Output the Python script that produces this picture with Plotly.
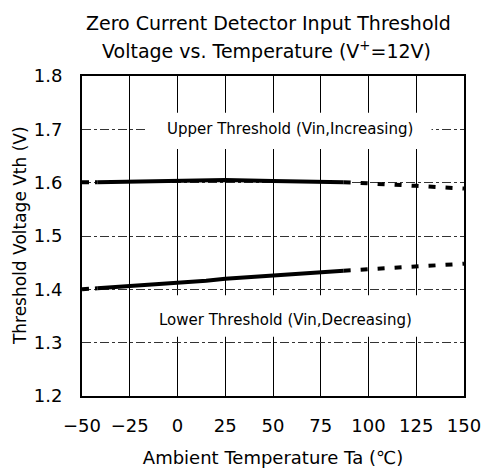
import plotly.graph_objects as go

# ---- data ----
temp_left = [-50, -42]
upper_left = [1.601, 1.601]
lower_left = [1.400, 1.402]

temp_solid = [-42, -25, 0, 15, 25, 50, 75, 87]
upper_solid = [1.601, 1.602, 1.605, 1.606, 1.605, 1.603, 1.601, 1.601]
lower_solid = [1.402, 1.406, 1.413, 1.416, 1.420, 1.426, 1.432, 1.435]

temp_right = [87, 100, 125, 150]
upper_right = [1.601, 1.598, 1.594, 1.589]
lower_right = [1.435, 1.438, 1.443, 1.448]

x_ticks = [-50, -25, 0, 25, 50, 75, 100, 125, 150]
x_tick_text = ["\u221250", "\u221225", "0", "25", "50", "75", "100", "125", "150"]
y_ticks = [1.2, 1.3, 1.4, 1.5, 1.6, 1.7, 1.8]
y_tick_text = ["1.2", "1.3", "1.4", "1.5", "1.6", "1.7", "1.8"]

title_lines = ["Zero Current Detector Input Threshold",
               "Voltage vs. Temperature (V<sup>+</sup>=12V)"]

FONT = "DejaVu Sans"
BLACK = "#000000"

fig = go.Figure()

def add(x, y, dash):
    fig.add_trace(go.Scatter(x=x, y=y, mode="lines",
                             line=dict(color=BLACK, width=4, dash=dash),
                             showlegend=False, hoverinfo="skip"))

add(temp_left, upper_left, "7px,6px")
add(temp_solid, upper_solid, "solid")
add(temp_right, upper_right, "7px,10px")
add(temp_left, lower_left, "7px,6px")
add(temp_solid, lower_solid, "solid")
add(temp_right, lower_right, "7px,10px")

# white label backgrounds covering grid lines
fig.add_shape(type="rect", xref="x", yref="y", x0=-15.5, x1=133, y0=1.663, y1=1.731,
              fillcolor="white", line=dict(width=0), layer="between")
fig.add_shape(type="rect", xref="x", yref="y", x0=-17, x1=132, y0=1.311, y1=1.389,
              fillcolor="white", line=dict(width=0), layer="between")

fig.add_annotation(x=59, y=1.7, xref="x", yref="y", showarrow=False,
                   text="Upper Threshold (Vin,Increasing)",
                   font=dict(family=FONT, size=15, color=BLACK))
fig.add_annotation(x=56.5, y=1.343, xref="x", yref="y", showarrow=False,
                   text="Lower Threshold (Vin,Decreasing)",
                   font=dict(family=FONT, size=15, color=BLACK))

# y-axis title
fig.add_annotation(x=-0.162, y=0.5, xref="paper", yref="paper", showarrow=False,
                   xanchor="center", yanchor="middle",
                   text="Threshold Voltage Vth (V)", textangle=-90,
                   font=dict(family=FONT, size=17, color=BLACK))

# two-line chart title
fig.add_annotation(x=0.487, y=1.1656, xref="paper", yref="paper", showarrow=False,
                   text=title_lines[0], xanchor="center", yanchor="middle",
                   font=dict(family=FONT, size=19, color=BLACK))
fig.add_annotation(x=0.482, y=1.081, xref="paper", yref="paper", showarrow=False,
                   text=title_lines[1], xanchor="center", yanchor="middle",
                   font=dict(family=FONT, size=19, color=BLACK))

fig.update_layout(
    width=490, height=469,
    margin=dict(l=82, r=26, t=76, b=73, autoexpand=False),
    paper_bgcolor="white", plot_bgcolor="white",
    xaxis=dict(range=[-50, 150], tickvals=x_ticks, ticktext=x_tick_text,
               showgrid=True, gridcolor=BLACK, gridwidth=1, griddash="solid",
               showline=True, linecolor=BLACK, linewidth=2, mirror=True,
               ticks="", zeroline=False, ticklabelstandoff=12, automargin=False,
               tickfont=dict(family=FONT, size=18, color=BLACK),
               title=dict(text="Ambient Temperature Ta (\u2103)", standoff=17,
                          font=dict(family=FONT, size=18, color=BLACK))),
    yaxis=dict(range=[1.2, 1.8], tickvals=y_ticks, ticktext=y_tick_text,
               showgrid=True, gridcolor="#333333", gridwidth=1, griddash="dashdot",
               showline=True, linecolor=BLACK, linewidth=2, mirror=True,
               ticks="", zeroline=False, ticklabelstandoff=14, automargin=False,
               tickfont=dict(family=FONT, size=18, color=BLACK)),
)

fig.write_html("out.html", config={"displayModeBar": False},
               post_script="document.body.style.margin='0px';")
